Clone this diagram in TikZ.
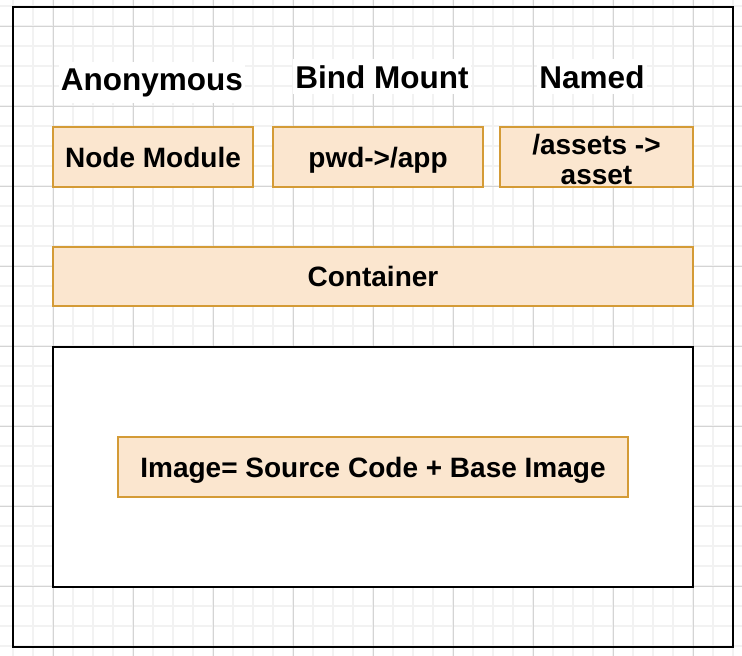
\documentclass[tikz,border=0pt]{standalone}
\usepackage{fontspec}
\setmainfont{Liberation Sans}
\definecolor{minorgrid}{HTML}{F2F2F2}
\definecolor{majorgrid}{HTML}{D4D4D4}
\definecolor{boxfill}{HTML}{FBE6CF}
\definecolor{boxline}{HTML}{D49B36}
\begin{document}
\begin{tikzpicture}[x=1pt,y=-1pt,
  minorline/.style={draw=minorgrid,line width=1.2pt},
  majorline/.style={draw=majorgrid,line width=1pt},
  frame/.style={draw=black,line width=2pt},
  orangebox/.style={draw=boxline,fill=boxfill,line width=1.4pt,inner sep=0pt,
    font=\fontsize{28}{30}\selectfont\bfseries},
  oneline/.style={text height=20pt,text depth=0pt},
  header/.style={fill=white,inner xsep=2pt,inner ysep=6pt,anchor=base,
    font=\fontsize{31.5}{34}\selectfont\bfseries}]
\useasboundingbox (0,0) rectangle (742,656);
\fill[white] (0,0) rectangle (742,656);
% grid
\foreach \x in {13,33,...,733} \draw[minorline] (\x,0) -- (\x,656);
\foreach \y in {6,26,...,646} \draw[minorline] (0,\y) -- (742,\y);
\foreach \x in {53,133,...,693} \draw[majorline] (\x,0) -- (\x,656);
\foreach \y in {26,106,...,586} \draw[majorline] (0,\y) -- (742,\y);
% outer frame
\draw[frame] (13,7) rectangle (733,647);
% headers
\node[header] (anon) at (152,90) {Anonymous};
\node[header] (bind) at (382,88) {Bind Mount};
\node[header] (named) at (592,88) {Named};
% volume boxes
\node[orangebox,oneline,minimum width=200pt,minimum height=60pt] (nodemod) at (153,157) {Node Module};
\node[orangebox,oneline,minimum width=210pt,minimum height=60pt] (pwd) at (378,157) {pwd->/app};
\node[orangebox,align=center,minimum width=193pt,minimum height=60pt,text height=54pt,text depth=0pt] (assets) at (596.5,157) {/assets ->\\asset};
% container
\node[orangebox,oneline,minimum width=640pt,minimum height=59pt] (container) at (373,276.5) {Container};
% image frame
\node[frame,fill=white,minimum width=640pt,minimum height=240pt,inner sep=0pt] (imgframe) at (373,467) {};
\node[orangebox,oneline,minimum width=510pt,minimum height=60pt] (image) at (373,467) {Image= Source Code + Base Image};
\end{tikzpicture}
\end{document}
